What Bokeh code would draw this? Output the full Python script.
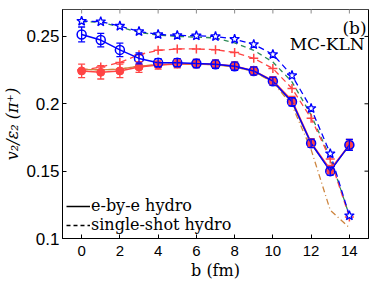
import numpy as np
from bokeh.plotting import figure
from bokeh.models import (ColumnDataSource, Whisker, TeeHead, FixedTicker,
                          Label, Legend, LegendItem, Range1d, Span)
from bokeh.embed import file_html
from bokeh.resources import INLINE

# ---------------- data ----------------
b = [0, 1, 2, 3, 4, 5, 6, 7, 8, 9, 10, 11, 12, 13, 14]

ebe_blue = [0.2515, 0.2473, 0.2400, 0.2337, 0.2305, 0.2305, 0.2299, 0.2294, 0.2279, 0.2244, 0.2168, 0.2015, 0.1707, 0.1500, 0.1695]
ebe_blue_err = [0.0055, 0.005, 0.005, 0.004, 0.003, 0.003, 0.003, 0.003, 0.003, 0.003, 0.003, 0.003, 0.003, 0.003, 0.004]

ebe_red = [0.2244, 0.2234, 0.2244, 0.2273, 0.2288, 0.2296, 0.2299, 0.2294, 0.2280, 0.2246, 0.2172, 0.2025, 0.1712, 0.1512, 0.1695]
ebe_red_err = [0.005, 0.005, 0.005, 0.004, 0.003, 0.003, 0.003, 0.003, 0.003, 0.003, 0.003, 0.003, 0.003, 0.003, 0.004]

ebe_peru = [0.2255, 0.2252, 0.2258, 0.2279, 0.2290, 0.2297, 0.2295, 0.2290, 0.2275, 0.2240, 0.2165, 0.2010, 0.1702, 0.1505, 0.1690]

ss_blue = [0.2614, 0.2610, 0.2577, 0.2537, 0.2515, 0.2508, 0.2505, 0.2500, 0.2480, 0.2441, 0.2367, 0.2210, 0.1966, 0.1630, 0.1170]
ss_red = [0.2250, 0.2273, 0.2307, 0.2365, 0.2397, 0.2407, 0.2407, 0.2402, 0.2381, 0.2338, 0.2262, 0.2114, 0.1892, 0.1590, 0.1160]
ss_green = [0.2610, 0.2605, 0.2570, 0.2530, 0.2510, 0.2500, 0.2495, 0.2489, 0.2452, 0.2397, 0.2310, 0.2163, 0.1916, 0.1600, 0.1170]
ss_peru = [0.2255, 0.2252, 0.2258, 0.2279, 0.2290, 0.2297, 0.2295, 0.2290, 0.2275, 0.2240, 0.2160, 0.1990, 0.1660, 0.1210, 0.1080]

x_ticks = [0, 2, 4, 6, 8, 10, 12, 14]
y_ticks = [0.1, 0.15, 0.2, 0.25]
y_tick_labels = ["0.1", "0.15", "0.2", "0.25"]
x_lim = (-1, 15)
y_lim = (0.1, 0.27)

BLUE = "#0000ff"
RED = "#ff4444"
GREEN = "#2e8b57"
PERU = "#cd853f"
BLACK = "#000000"
GREY = "#8a8a8a"

# ---------------- figure ----------------
p = figure(width=374, height=282, output_backend="svg", toolbar_location=None,
           x_range=Range1d(*x_lim), y_range=Range1d(*y_lim),
           min_border_left=60, min_border_right=6, min_border_top=9, min_border_bottom=43)
p.outline_line_color = BLACK
p.outline_line_width = 1
p.xgrid.visible = False
p.ygrid.visible = False
p.background_fill_color = "white"
p.border_fill_color = "white"

def style_axis(ax, ticks, size):
    ax.ticker = FixedTicker(ticks=ticks)
    ax.major_tick_in = 4
    ax.major_tick_out = 0
    ax.minor_tick_line_color = None
    ax.axis_line_color = BLACK
    ax.major_tick_line_color = BLACK
    ax.major_tick_line_width = 1
    ax.axis_line_width = 1
    ax.major_label_text_font = "Liberation Sans"
    ax.major_label_text_font_size = size
    ax.major_label_text_color = BLACK

style_axis(p.xaxis[0], x_ticks, "15px")
p.xaxis[0].major_label_standoff = 7
p.xaxis[0].axis_label = "b (fm)"
p.xaxis[0].axis_label_text_font = "DejaVu Serif"
p.xaxis[0].axis_label_text_font_style = "normal"
p.xaxis[0].axis_label_text_font_size = "16px"
p.xaxis[0].axis_label_text_color = BLACK
p.xaxis[0].axis_label_standoff = 2

style_axis(p.yaxis[0], y_ticks, "17px")
p.yaxis[0].major_label_standoff = 3
p.yaxis[0].major_label_overrides = {t: l for t, l in zip(y_ticks, y_tick_labels)}
p.yaxis[0].axis_label = "v\u2082/\u03b5\u2082 (\u03c0\u207a)"
p.yaxis[0].axis_label_text_font = "DejaVu Serif"
p.yaxis[0].axis_label_text_font_style = "italic"
p.yaxis[0].axis_label_text_font_size = "16px"
p.yaxis[0].axis_label_text_color = BLACK
p.yaxis[0].axis_label_standoff = 1

# top edge is grey in the reference
p.add_layout(Span(location=y_lim[1], dimension="width", line_color=GREY, line_width=1))

# inward tick marks on top and right edges: dash markers centred on the edge, clipped by the frame
p.scatter(x_ticks, [y_lim[1]] * len(x_ticks), marker="dash", angle=np.pi / 2, size=8, line_color=GREY, line_width=1)
p.scatter([x_lim[1]] * len(y_ticks), y_ticks, marker="dash", size=8, line_color=BLACK, line_width=1)

# ---------------- single-shot (dashed) ----------------
p.line(b, ss_peru, line_color=PERU, line_width=1.3, line_dash="6 3 1 3")
p.line(b, ss_green, line_color=GREEN, line_width=1.3, line_dash="5 4")
p.line(b, ss_red, line_color=RED, line_width=1.3, line_dash="6 4")
p.scatter(b, ss_red, marker="cross", size=9, line_color=RED, line_width=1.5)
p.line(b, ss_blue, line_color=BLUE, line_width=1.3, line_dash="6 4")
p.scatter(b, ss_blue, marker="star", size=10, line_color=BLUE, fill_color="white", line_width=1.3)

# ---------------- e-by-e (solid) ----------------
p.line(b, ebe_peru, line_color=PERU, line_width=1.3)

src_red = ColumnDataSource(dict(x=b, y=ebe_red,
                                lo=[v - e for v, e in zip(ebe_red, ebe_red_err)],
                                hi=[v + e for v, e in zip(ebe_red, ebe_red_err)]))
p.add_layout(Whisker(base="x", lower="lo", upper="hi", source=src_red, line_color=RED, line_width=1.3,
                     upper_head=TeeHead(size=7, line_color=RED, line_width=1.3),
                     lower_head=TeeHead(size=7, line_color=RED, line_width=1.3), level="glyph"))
p.line("x", "y", source=src_red, line_color=RED, line_width=1.5)
p.scatter("x", "y", source=src_red, marker="circle", size=8, line_color=RED, fill_color=RED)

src_blue = ColumnDataSource(dict(x=b, y=ebe_blue,
                                 lo=[v - e for v, e in zip(ebe_blue, ebe_blue_err)],
                                 hi=[v + e for v, e in zip(ebe_blue, ebe_blue_err)]))
p.add_layout(Whisker(base="x", lower="lo", upper="hi", source=src_blue, line_color=BLUE, line_width=1.3,
                     upper_head=TeeHead(size=7, line_color=BLUE, line_width=1.3),
                     lower_head=TeeHead(size=7, line_color=BLUE, line_width=1.3), level="glyph"))
p.line("x", "y", source=src_blue, line_color=BLUE, line_width=1.5)
p.scatter("x", "y", source=src_blue, marker="circle", size=9, line_color=BLUE, fill_color=None, line_width=1.5)

# ---------------- legend ----------------
r_solid = p.line([0, 0], [0, 0], line_color=BLACK, line_width=1.5)
r_dash = p.line([0, 0], [0, 0], line_color=BLACK, line_width=1.5, line_dash="4 3")
legend = Legend(items=[LegendItem(label="e-by-e hydro", renderers=[r_solid]),
                       LegendItem(label="single-shot hydro", renderers=[r_dash])],
                location="bottom_left", margin=0, padding=4, spacing=-2,
                glyph_width=24, glyph_height=14, label_height=14, label_standoff=1,
                label_text_font="DejaVu Serif", label_text_font_size="16px",
                label_text_color=BLACK,
                background_fill_alpha=0, border_line_alpha=0)
p.add_layout(legend)

# ---------------- texts ----------------
p.add_layout(Label(x=14.9, y=0.256, text="(b)", text_align="right", text_baseline="alphabetic",
                   text_font="DejaVu Serif", text_font_size="17px", text_color=BLACK))
p.add_layout(Label(x=14.8, y=0.2441, text="MC-KLN", text_align="right", text_baseline="alphabetic",
                   text_font="DejaVu Serif", text_font_size="17px", text_color=BLACK))

open("out.html", "w").write(file_html(p, INLINE))
